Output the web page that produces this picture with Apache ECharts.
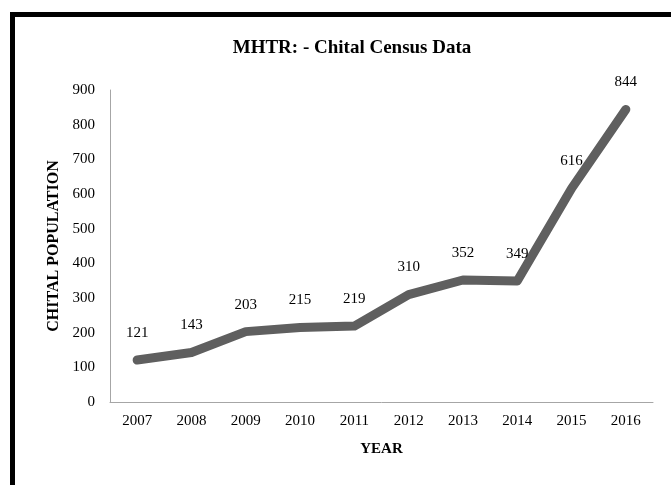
<!DOCTYPE html>
<html>
<head>
<meta charset="utf-8">
<script src="https://cdn.jsdelivr.net/npm/echarts@6/dist/echarts.min.js"></script>
<style>
  html, body { margin: 0; padding: 0; background: #fff; overflow: hidden; }
  #chart { width: 671px; height: 485px; }
</style>
</head>
<body>
<div id="chart"></div>
<script>
const years = ['2007', '2008', '2009', '2010', '2011', '2012', '2013', '2014', '2015', '2016'];
const population = [121, 143, 203, 215, 219, 310, 352, 349, 616, 844];

const serif = '"Liberation Serif", "DejaVu Serif", serif';

const chart = echarts.init(document.getElementById('chart'));
chart.setOption({
    backgroundColor: '#fff',
    animation: false,
    title: {
        text: 'MHTR: - Chital Census Data',
        left: 347,
        top: 34,
        textAlign: 'center',
        textStyle: { fontFamily: serif, fontSize: 19, fontWeight: 'bold', color: '#000' },
    },
    graphic: [
        {
            type: 'rect',
            shape: { x: 12.5, y: 14.5, width: 700, height: 520 },
            style: { fill: 'none', stroke: '#000', lineWidth: 5 },
        },
    ],
    grid: { left: 110, right: 18, top: 90, bottom: 83 },
    xAxis: {
        type: 'category',
        data: years,
        name: 'YEAR',
        nameLocation: 'middle',
        nameGap: 40,
        nameTextStyle: { fontFamily: serif, fontSize: 15, fontWeight: 'bold', color: '#000' },
        axisLine: { lineStyle: { color: '#a6a6a6', width: 1 } },
        axisTick: { show: false },
        axisLabel: { fontFamily: serif, fontSize: 15, color: '#000', margin: 12 },
    },
    yAxis: {
        type: 'value',
        min: 0,
        max: 900,
        interval: 100,
        name: 'CHITAL POPULATION',
        nameLocation: 'middle',
        nameGap: 47,
        nameTextStyle: { fontFamily: serif, fontSize: 16, fontWeight: 'bold', color: '#000' },
        axisLine: { show: true, lineStyle: { color: '#a6a6a6', width: 1 } },
        axisTick: { show: false },
        splitLine: { show: false },
        axisLabel: { fontFamily: serif, fontSize: 15, color: '#000', margin: 15 },
    },
    series: [
        {
            type: 'line',
            data: population,
            symbol: 'circle',
            symbolSize: 1,
            showSymbol: true,
            itemStyle: { color: '#5f5f5f' },
            lineStyle: { color: '#5f5f5f', width: 9, cap: 'round', join: 'round' },
            label: {
                show: true,
                position: 'top',
                distance: 19,
                fontFamily: serif,
                fontSize: 15,
                color: '#000',
            },
        },
    ],
});
</script>
</body>
</html>
